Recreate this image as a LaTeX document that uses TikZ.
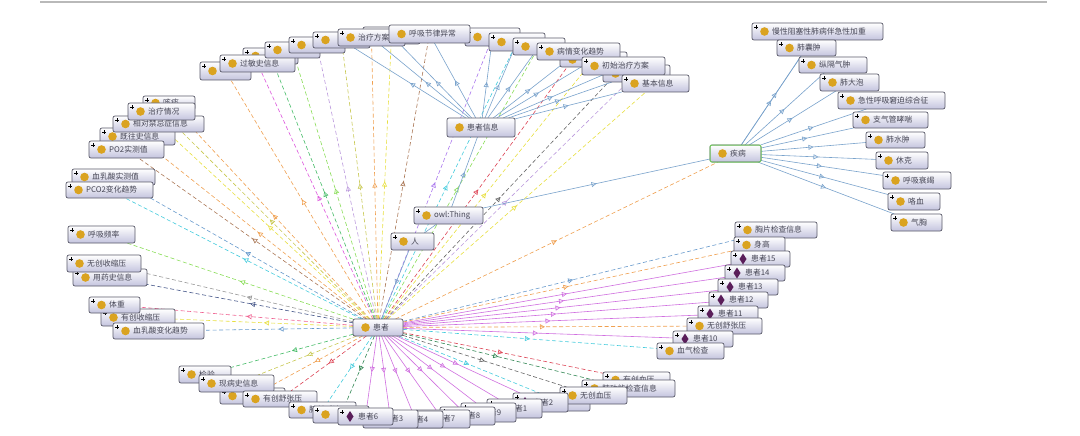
\documentclass[tikz,border=0pt]{standalone}
\usepackage{fontspec}
\newfontfamily\cjk{Noto Sans CJK SC}
\usetikzlibrary{arrows.meta,decorations.markings}
\pgfdeclarelayer{bg}
\pgfdeclarelayer{edges}
\pgfsetlayers{bg,edges,main}
\definecolor{goldc}{RGB}{218,163,32}
\definecolor{indc}{RGB}{90,30,90}
\definecolor{lav}{RGB}{196,196,222}
\definecolor{bord}{RGB}{90,90,105}
\definecolor{steel}{RGB}{122,163,204}
\definecolor{viol}{RGB}{208,112,224}
\definecolor{c1}{RGB}{240,96,144}
\definecolor{c2}{RGB}{232,224,64}
\definecolor{c3}{RGB}{136,221,85}
\definecolor{c4}{RGB}{68,187,102}
\definecolor{c5}{RGB}{68,204,221}
\definecolor{c6}{RGB}{102,153,204}
\definecolor{c7}{RGB}{68,85,136}
\definecolor{c8}{RGB}{240,160,80}
\definecolor{c9}{RGB}{170,119,238}
\definecolor{c10}{RGB}{153,153,153}
\definecolor{c11}{RGB}{102,102,102}
\definecolor{c12}{RGB}{170,119,85}
\definecolor{c13}{RGB}{221,85,221}
\definecolor{c14}{RGB}{221,68,85}
\definecolor{c15}{RGB}{51,136,85}
\definecolor{c16}{RGB}{200,200,80}
\definecolor{c17}{RGB}{187,153,221}
\tikzset{
  onode/.style={rectangle, rounded corners=2pt, draw=bord, line width=0.7pt,
    top color=white, bottom color=lav, anchor=north west, inner sep=0pt, outer sep=0pt},
  otext/.style={anchor=west, inner sep=0pt, font=\cjk\fontsize{7.8}{9}\selectfont, text={rgb,255:red,70;green,70;blue,85}},
  plusmark/.style={line width=0.5pt, black},
  marr/.style={postaction={decorate}, decoration={markings, mark=at position #1 with {\arrow{Triangle[open,length=5pt,width=5pt]}}}},
  dedge/.style={draw=#1, line width=0.6pt, dash pattern=on 4pt off 2.5pt, marr=0.5},
  sedge/.style={draw=#1, line width=0.6pt, marr=0.5},
}
% name, x1, y1, x2, y2, text, icon (1 class, 2 individual), plus (1/0)
\newcommand\obox[8]{%
  \node[onode, minimum width={#4-#2}, minimum height={#5-#3}] (#1) at (#2,#3) {};
  \ifnum#7=1 \fill[goldc] ([xshift=12.5pt]#1.west) circle (4.3pt);\fi
  \ifnum#7=2 \fill[indc] ([xshift=12pt,yshift=5.5pt]#1.west) -- ++(3.5pt,-5.5pt) -- ++(-3.5pt,-5.5pt) -- ++(-3.5pt,5.5pt) -- cycle;\fi
  \ifnum#8=1 \draw[plusmark] ([xshift=2pt,yshift=-4pt]#1.north west) -- ++(3.6pt,0pt) ([xshift=3.8pt,yshift=-2.2pt]#1.north west) -- ++(0pt,-3.6pt);\fi
  \node[otext] at ([xshift=20pt]#1.west) {#6};
}
\begin{document}
\begin{tikzpicture}[x=1pt,y=-1pt]
\useasboundingbox (0,0) rectangle (1080,436);
\begin{pgfonlayer}{bg}
\fill[white] (0,0) rectangle (1080,436);
\draw[gray!55, line width=1.5pt] (40,2) -- (1047,2);
\end{pgfonlayer}

% ---------- top cluster ----------
\obox{t1}{200}{62}{251}{80}{}{1}{1}
\obox{t2}{243}{48}{298}{64}{}{1}{1}
\obox{gms}{220}{55}{295}{72}{过敏史信息}{1}{1}
\obox{t3}{265}{42}{320}{58}{}{1}{1}
\obox{t4}{289}{37}{345}{53}{}{1}{1}
\obox{t5}{313}{32}{370}{48}{}{1}{1}
\obox{t6}{363}{27}{420}{44}{}{1}{1}
\obox{zlfa}{338}{29}{405}{46}{治疗方案}{1}{1}
\obox{t7}{465}{28}{520}{46}{}{1}{1}
\obox{hxjl}{389}{25}{470}{43}{呼吸节律异常}{1}{0}
\obox{t8}{489}{33}{545}{51}{}{1}{1}
\obox{t9}{513}{38}{565}{55}{}{1}{1}
\obox{t10}{560}{52}{627}{67}{}{1}{1}
\obox{bqbh}{537}{43}{620}{60}{病情变化趋势}{1}{1}
\obox{t11}{603}{65}{670}{82}{}{1}{1}
\obox{cszl}{582}{57}{665}{75}{初始治疗方案}{1}{1}
\obox{jbxx}{622}{75}{689}{92}{基本信息}{1}{1}

% ---------- left cluster ----------
\obox{kt}{143}{96}{195}{110}{咳痰}{1}{1}
\obox{jwsx}{100}{128}{175}{145}{既往史信息}{1}{1}
\obox{xdjj}{113}{116}{204}{132}{相对禁忌症信息}{1}{1}
\obox{zlqk}{128}{103}{195}{120}{治疗情况}{1}{1}
\obox{po2}{89}{141}{164}{158}{PO2实测值}{1}{1}
\obox{xrsc}{72}{169}{155}{185}{血乳酸实测值}{1}{1}
\obox{pco2}{66}{182}{153}{198}{PCO2变化趋势}{1}{1}
\obox{hxpl}{68}{226}{135}{243}{呼吸频率}{1}{1}
\obox{yysx}{73}{269}{147}{286}{用药史信息}{1}{1}
\obox{wcss}{67}{255}{141}{272}{无创收缩压}{1}{1}
\obox{ycss}{101}{309}{175}{326}{有创收缩压}{1}{1}
\obox{tz}{89}{297}{140}{313}{体重}{1}{1}
\obox{xrbh}{113}{323}{204}{339}{血乳酸变化趋势}{1}{1}

% ---------- centre ----------
\obox{hz}{353}{319}{403}{336}{患者}{1}{0}
\obox{ren}{391}{233}{434}{250}{人}{1}{1}
\obox{owl}{414}{207}{483}{224}{owl:Thing}{1}{1}
\obox{hzxx}{447}{118}{515}{137}{患者信息}{1}{0}
\obox{jb}{710}{145}{761}{162}{疾病}{1}{0}
\draw[draw={rgb,255:red,120;green,205;blue,100}, line width=1pt, rounded corners=2pt] (jb.north west) rectangle (jb.south east);

% ---------- diseases ----------
\obox{d1}{752}{23}{883}{40}{慢性阻塞性肺病伴急性加重}{1}{1}
\obox{d2}{777}{40}{836}{56}{肺囊肿}{1}{1}
\obox{d3}{799}{57}{867}{73}{纵隔气肿}{1}{1}
\obox{d4}{820}{74}{879}{91}{肺大泡}{1}{1}
\obox{d5}{838}{92}{945}{109}{急性呼吸窘迫综合征}{1}{1}
\obox{d6}{853}{112}{928}{128}{支气管哮喘}{1}{1}
\obox{d7}{866}{132}{925}{148}{肺水肿}{1}{1}
\obox{d8}{876}{152}{928}{169}{休克}{1}{1}
\obox{d9}{883}{172}{951}{189}{呼吸衰竭}{1}{1}
\obox{d10}{888}{193}{940}{210}{咯血}{1}{1}
\obox{d11}{891}{214}{942}{231}{气胸}{1}{1}

% ---------- right-bottom cluster ----------
\obox{xpjc}{735}{222}{817}{238}{胸片检查信息}{1}{1}
\obox{sg}{734}{237}{785}{253}{身高}{1}{1}
\obox{p15}{731}{251}{790}{267}{患者15}{2}{1}
\obox{p14}{725}{265}{785}{281}{患者14}{2}{1}
\obox{p13}{718}{279}{778}{295}{患者13}{2}{1}
\obox{p12}{709}{292}{768}{308}{患者12}{2}{1}
\obox{p11}{698}{306}{758}{322}{患者11}{2}{1}
\obox{wcsz}{687}{318}{762}{334}{无创舒张压}{1}{1}
\obox{p10}{673}{331}{733}{347}{患者10}{2}{1}
\obox{xqjc}{657}{343}{724}{359}{血气检查}{1}{1}

% ---------- bottom cluster ----------
\obox{b1}{220}{388}{285}{404}{}{1}{1}
\obox{jy}{179}{366}{231}{383}{检验}{1}{1}
\obox{xbsx}{199}{375}{274}{392}{现病史信息}{1}{1}
\obox{ycsz}{243}{391}{317}{407}{有创舒张压}{1}{1}
\obox{fbtz}{289}{402}{356}{418}{肺部听诊}{1}{1}
\obox{b2}{313}{406}{369}{423}{}{1}{1}
\obox{ycxy}{603}{372}{670}{388}{有创血压}{1}{1}
\obox{fgn}{582}{380}{675}{397}{肺功能检查信息}{1}{1}
\obox{b3}{533}{393}{590}{411}{}{1}{1}
\obox{wcxy}{560}{387}{627}{404}{无创血压}{1}{1}
\obox{p2}{513}{393}{568}{412}{患者2}{2}{1}
\obox{p1}{487}{399}{542}{418}{患者1}{2}{1}
\obox{p9}{461}{403}{516}{422}{患者9}{2}{1}
\obox{p8}{440}{407}{495}{425}{患者8}{2}{1}
\obox{p7}{415}{410}{470}{428}{患者7}{2}{1}
\obox{p4}{388}{411}{443}{428}{患者4}{2}{1}
\obox{p3}{363}{410}{418}{428}{患者3}{2}{1}
\obox{p6}{338}{408}{393}{425}{患者6}{2}{1}

% ---------- connectors ----------
\begin{pgfonlayer}{edges}
\foreach \tg/\cl in {t1/c8, gms/c13, t2/c4, t3/c3, t4/c17, t5/c16, zlfa/c8, t6/c2,
  hxjl/c12, t7/c9, t8/c5, t9/c3, bqbh/c14, t10/c2, cszl/c11, t11/c17, jbxx/c2,
  kt/c8, zlqk/c16, xdjj/c2, jwsx/c8, po2/c12, xrsc/c6, pco2/c5, hxpl/c3, wcss/c10,
  yysx/c7, tz/c1, ycss/c2, xrbh/c6,
  jy/c4, xbsx/c16, b1/c8, ycsz/c14, fbtz/c5, b2/c15, b3/c5, wcxy/c11, fgn/c15, ycxy/c14,
  xpjc/c6, sg/c8, wcsz/c8, xqjc/c5, jb/c8}
  \draw[dedge=\cl] (hz) -- (\tg);
\foreach \tg in {p1,p2,p3,p4,p6,p7,p8,p9,p10,p11,p12,p13,p14,p15}
  \draw[sedge=viol] (hz) -- (\tg);
\foreach \tg in {t5,zlfa,t6,hxjl,t7,t8,t9,bqbh,t10,cszl,t11,jbxx}
  \draw[sedge=steel] (hzxx) -- (\tg);
\foreach \tg in {d1,d2,d3,d4,d5,d6,d7,d8,d9,d10,d11}
  \draw[sedge=steel] (jb) -- (\tg);
\draw[sedge=steel] (owl) -- (hzxx);
\draw[sedge=steel] (owl) -- (jb);
\draw[steel, line width=0.6pt] (owl) -- (ren);
\draw[sedge=steel] (ren) -- (hz);
\end{pgfonlayer}
\end{tikzpicture}
\end{document}
